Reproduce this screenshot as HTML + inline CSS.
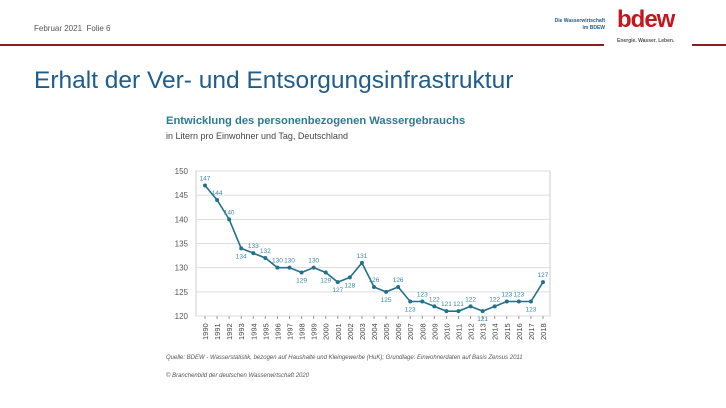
<!DOCTYPE html>
<html><head><meta charset="utf-8">
<style>
body{margin:0;width:726px;height:408px;background:#fff;overflow:hidden;font-family:"Liberation Sans",sans-serif;position:relative}
.abs{position:absolute}
</style></head>
<body>
<div class="abs" style="left:34px;top:24px;font-size:8px;color:#555">Februar 2021 &nbsp;Folie 6</div>
<div class="abs" style="left:0;top:44px;width:604px;height:2px;background:#8e1c1f"></div>
<div class="abs" style="left:692px;top:44px;width:34px;height:2px;background:#8e1c1f"></div>
<div class="abs" style="left:540px;top:18px;width:65px;text-align:right;font-size:5px;font-weight:bold;color:#1f5d8c;line-height:7px">Die Wasserwirtschaft<br>im BDEW</div>
<div class="abs" style="left:617px;top:6px;font-size:24px;font-weight:bold;color:#c4161c;letter-spacing:-1px">bdew</div>
<div class="abs" style="left:617px;top:38px;font-size:5px;font-weight:bold;color:#555">Energie. Wasser. Leben.</div>
<div class="abs" style="left:34px;top:67px;font-size:24.5px;color:#1f5d8c">Erhalt der Ver- und Entsorgungsinfrastruktur</div>
<div class="abs" style="left:166px;top:115px;font-size:11.2px;font-weight:bold;color:#2c7a96">Entwicklung des personenbezogenen Wassergebrauchs</div>
<div class="abs" style="left:166px;top:131px;font-size:9px;color:#444">in Litern pro Einwohner und Tag, Deutschland</div>
<svg class="abs" style="left:0;top:0" width="726" height="408" id="chart"></svg>
<div class="abs" style="left:166px;top:355px;font-size:6px;font-style:italic;color:#555">Quelle: BDEW - Wasserstatistik, bezogen auf Haushalte und Kleingewerbe (HuK); Grundlage: Einwohnerdaten auf Basis Zensus 2011</div>
<div class="abs" style="left:166px;top:373px;font-size:6px;font-style:italic;color:#555">© Branchenbild der deutschen Wasserwirtschaft 2020</div>
<script>
const years=[1990,1991,1992,1993,1994,1995,1996,1997,1998,1999,2000,2001,2002,2003,2004,2005,2006,2007,2008,2009,2010,2011,2012,2013,2014,2015,2016,2017,2018];
const values=[147,144,140,134,133,132,130,130,129,130,129,127,128,131,126,125,126,123,123,122,121,121,122,121,122,123,123,123,127];
const labelPos=[1,1,1,-1,1,1,1,1,-1,1,-1,-1,-1,1,1,-1,1,-1,1,1,1,1,1,-1,1,1,1,-1,1];
const yTicks=[120,125,130,135,140,145,150];
const svg=document.getElementById('chart');const NS='http://www.w3.org/2000/svg';
const X0=196,X1=550,Y0=316,Y1=171;
const xs=i=>205+i*(543-205)/(years.length-1);
const ys=v=>Y0-(v-120)*(Y0-Y1)/30;
function mk(t,a,p){const e=document.createElementNS(NS,t);for(const k in a)e.setAttribute(k,a[k]);(p||svg).appendChild(e);return e;}
const frame=mk('rect',{x:X0,y:Y1,width:X1-X0,height:Y0-Y1,fill:'none',stroke:'#ccc','stroke-width':1});


yTicks.forEach(t=>{
 const g=mk('line',{x1:X0,x2:X1,y1:ys(t),y2:ys(t),stroke:'#ddd','stroke-width':1});
 
 
 const l=mk('text',{x:188,y:ys(t)+3,'text-anchor':'end','font-size':8,fill:'#555','font-family':'Liberation Sans, sans-serif'});l.textContent=t;
 
 
});
years.forEach((yr,i)=>{
 const t=mk('text',{transform:`translate(${xs(i)+3},340) rotate(-90)`,'font-size':7.5,fill:'#444','font-family':'Liberation Sans, sans-serif'});t.textContent=yr;
 
 
 const tk=mk('line',{x1:xs(i),x2:xs(i),y1:Y0,y2:Y0+3,stroke:'#999'});
 
 
});
const pts=values.map((v,i)=>xs(i)+','+ys(v)).join(' ');
const line=mk('polyline',{points:pts,fill:'none',stroke:'#24708c','stroke-width':1.6});


values.forEach((v,i)=>{
 const c=mk('circle',{cx:xs(i),cy:ys(v),r:2,fill:'#24708c'});
 
 
 const t=mk('text',{x:xs(i),y:labelPos[i]>0?ys(v)-5:ys(v)+10,'text-anchor':'middle','font-size':6.5,fill:'#3a8aa6','font-family':'Liberation Sans, sans-serif'});t.textContent=v;
 
 
});
</script>
</body></html>
